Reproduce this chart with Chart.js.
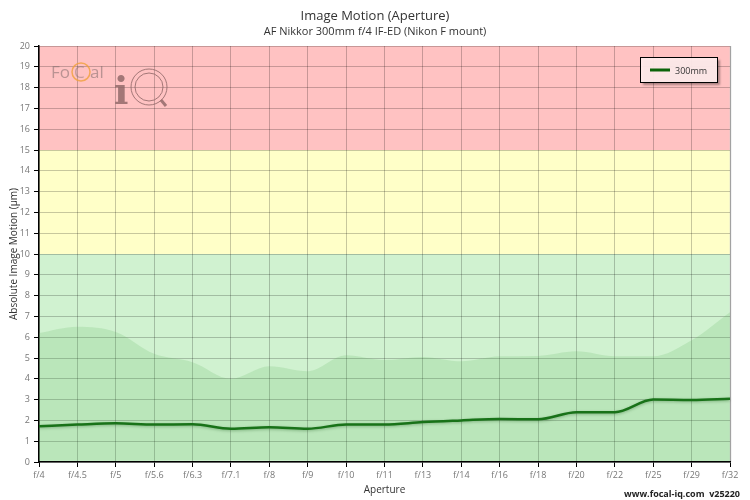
<!DOCTYPE html>
<html>
<head>
<meta charset="utf-8">
<script src="https://cdn.jsdelivr.net/npm/chart.js@4.4.1/dist/chart.umd.min.js"></script>
<style>
  html, body { margin:0; padding:0; background:#fff; }
  #wrap { width:750px; height:500px; position:relative; }
</style>
</head>
<body>
<div id="wrap"><canvas id="chart" width="750" height="500"></canvas></div>
<script>
// apertures along the x axis
const apertures = ['f/4','f/4.5','f/5','f/5.6','f/6.3','f/7.1','f/8','f/9','f/10','f/11','f/13','f/14','f/16','f/18','f/20','f/22','f/25','f/29','f/32'];
// measured image motion for the 300mm lens (µm)
const motion300 = [1.72,1.80,1.86,1.80,1.81,1.60,1.67,1.60,1.80,1.80,1.92,2.00,2.07,2.05,2.39,2.39,3.00,2.98,3.04];
// spread band (min / max of all measurements)
const bandLow  = [0.06,0.06,0.06,0.07,0.08,0.10,0.08,0.07,0.06,0.06,0.05,0.05,0.05,0.05,0.05,0.05,0.05,0.05,0.05];
const bandHigh = [6.20,6.50,6.25,5.20,4.80,4.00,4.60,4.36,5.13,4.90,5.05,4.84,5.08,5.10,5.32,5.08,5.08,5.85,7.20];
// background quality zones
const zoneEdges = [0, 10, 15, 20];
const zoneColors = ['#d0f2d0', '#ffffc8', '#ffc2c2'];
const yTicks = [0,1,2,3,4,5,6,7,8,9,10,11,12,13,14,15,16,17,18,19,20];

const FONT = "'Open Sans', 'DejaVu Sans', sans-serif";

const zonesPlugin = {
  id: 'zones',
  beforeDraw(chart) {
    const { ctx, chartArea: a, scales: { y } } = chart;
    ctx.save();
    for (let i = 0; i < zoneColors.length; i++) {
      const top = y.getPixelForValue(zoneEdges[i + 1]);
      const bot = y.getPixelForValue(zoneEdges[i]);
      ctx.fillStyle = zoneColors[i];
      ctx.fillRect(a.left, top, a.right - a.left, bot - top);
    }
    // right border
    ctx.strokeStyle = '#d0d0d0';
    ctx.lineWidth = 1.5;
    ctx.beginPath(); ctx.moveTo(a.right + 0.5, a.top); ctx.lineTo(a.right + 0.5, a.bottom); ctx.stroke();
    ctx.restore();
  }
};

const decorPlugin = {
  id: 'decor',
  afterDraw(chart) {
    const { ctx } = chart;
    ctx.save();
    // titles
    ctx.textAlign = 'center';
    ctx.fillStyle = '#333';
    ctx.font = `13px ${FONT}`;
    ctx.fillText('Image Motion (Aperture)', 375, 20);
    ctx.font = `11px ${FONT}`;
    ctx.fillText('AF Nikkor 300mm f/4 IF-ED (Nikon F mount)', 375, 35);

    // footer
    ctx.textAlign = 'right';
    ctx.font = `bold 9px ${FONT}`;
    ctx.fillStyle = '#222';
    ctx.fillText('www.focal-iq.com  v25220', 740, 497);

    // watermark logo
    ctx.textAlign = 'left';
    ctx.font = `17px ${FONT}`;
    ctx.fillStyle = 'rgba(130,110,110,0.55)';
    ctx.fillText('Fo', 51, 78);
    ctx.fillText('al', 90, 78);
    ctx.fillStyle = 'rgba(130,110,110,0.45)';
    ctx.fillText('C', 74, 78);
    ctx.strokeStyle = 'rgba(240,160,60,0.8)';
    ctx.lineWidth = 1.5;
    ctx.beginPath(); ctx.arc(81, 72, 9, 0, Math.PI * 2); ctx.stroke();
    ctx.fillStyle = 'rgba(140,100,100,0.8)';
    ctx.font = `bold 38px 'DejaVu Serif', serif`;
    ctx.fillText('i', 114, 104);
    ctx.strokeStyle = 'rgba(140,100,100,0.8)';
    ctx.lineWidth = 1;
    ctx.beginPath(); ctx.arc(149, 87, 18, 0, Math.PI * 2); ctx.stroke();
    ctx.beginPath(); ctx.arc(149, 87, 14, 0, Math.PI * 2); ctx.stroke();
    ctx.lineWidth = 3;
    ctx.beginPath(); ctx.moveTo(161, 100); ctx.lineTo(166, 106); ctx.stroke();

    // legend box
    const ds = chart.data.datasets.find(d => d.label === '300mm');
    ctx.shadowColor = 'rgba(0,0,0,0.35)';
    ctx.shadowOffsetX = 2; ctx.shadowOffsetY = 2; ctx.shadowBlur = 2;
    ctx.fillStyle = 'rgba(255,235,235,0.95)';
    ctx.fillRect(640.5, 57.5, 77, 25);
    ctx.shadowColor = 'transparent';
    ctx.strokeStyle = '#000';
    ctx.lineWidth = 1;
    ctx.strokeRect(640.5, 57.5, 77, 25);
    ctx.strokeStyle = ds.borderColor;
    ctx.lineWidth = 3;
    ctx.beginPath(); ctx.moveTo(650, 70); ctx.lineTo(670, 70); ctx.stroke();
    ctx.fillStyle = '#333';
    ctx.font = `9px ${FONT}`;
    ctx.textBaseline = 'middle';
    ctx.fillText(ds.label, 675, 71);
    ctx.restore();
  }
};

const lineShadow = {
  id: 'lineShadow',
  beforeDatasetDraw(chart, args) {
    if (args.index === 2) {
      chart.ctx.save();
      chart.ctx.shadowColor = 'rgba(0,60,0,0.35)';
      chart.ctx.shadowBlur = 3;
      chart.ctx.shadowOffsetY = 1;
    }
  },
  afterDatasetDraw(chart, args) {
    if (args.index === 2) chart.ctx.restore();
  }
};

new Chart(document.getElementById('chart'), {
  type: 'line',
  data: {
    labels: apertures,
    datasets: [
      { label: 'low', data: bandLow, borderWidth: 0, pointRadius: 0, fill: false, cubicInterpolationMode: 'monotone' },
      { label: 'high', data: bandHigh, borderWidth: 0, pointRadius: 0, fill: '-1', backgroundColor: 'rgba(90,180,90,0.18)', cubicInterpolationMode: 'monotone' },
      { label: '300mm', data: motion300, borderColor: '#0a640a', borderWidth: 2.5, pointRadius: 0, fill: false, cubicInterpolationMode: 'monotone' }
    ]
  },
  options: {
    responsive: false,
    animation: false,
    devicePixelRatio: 1,
    layout: { padding: { top: 46, right: 20, left: 8, bottom: 0 } },
    plugins: { legend: { display: false }, tooltip: { enabled: false } },
    scales: {
      x: {
        offset: false,
        grid: { color: 'rgba(0,0,0,0.22)', tickColor: '#000', tickLength: 5 },
        border: { color: '#000', width: 1.5 },
        ticks: { color: '#777', font: { family: FONT, size: 9 }, maxRotation: 0, autoSkip: false, padding: 3 },
        title: { display: true, text: 'Aperture', color: '#333', font: { family: FONT, size: 10 }, padding: { top: 1 } },
        afterFit(s) { s.height = 38; }
      },
      y: {
        min: 0, max: 20,
        afterBuildTicks(s) { s.ticks = yTicks.map(v => ({ value: v })); },
        grid: { color: 'rgba(0,0,0,0.22)', tickColor: '#000', tickLength: 5 },
        border: { color: '#000', width: 1.5 },
        ticks: { color: '#777', font: { family: FONT, size: 9 }, padding: 4 },
        title: { display: true, text: 'Absolute Image Motion (µm)', color: '#333', font: { family: FONT, size: 10 }, padding: 0 },
        afterFit(s) { s.width = 31; }
      }
    }
  },
  plugins: [zonesPlugin, lineShadow, decorPlugin]
});
</script>
</body>
</html>
